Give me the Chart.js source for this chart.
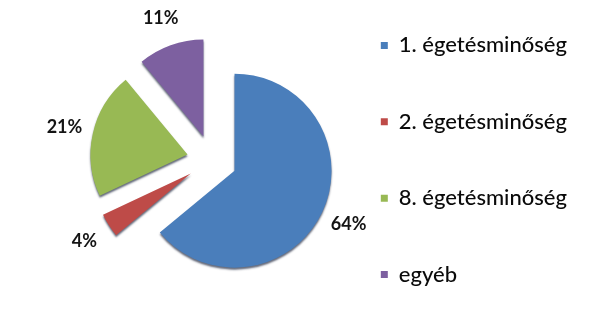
<!DOCTYPE html>
<html>
<head>
<meta charset="utf-8">
<script src="https://cdn.jsdelivr.net/npm/chart.js@4.4.0/dist/chart.umd.min.js"></script>
<style>
  html, body { margin: 0; padding: 0; background: #ffffff; }
</style>
</head>
<body>
<canvas id="pieChart" width="603" height="309"></canvas>
<script>
const categories = ['1. égetésminőség', '2. égetésminőség', '8. égetésminőség', 'egyéb'];
const shares = [64, 4, 21, 11];
const sliceColors = ['#4A7EBB', '#BE4B48', '#98B954', '#7D60A0'];

const EXPLODE = 25;       // how far every slice is pulled out of the centre
const LABEL_RADIUS = 1.3;  // percent labels, as a factor of the slice radius
const FONT = `Lato, 'Open Sans', sans-serif`;

// pulls every slice out along its own mid angle, adds the rim shadow
// and writes the percentages outside the slices
const explodePlugin = {
  id: 'explodePie',
  afterDatasetUpdate(chart, args) {
    args.meta.data.forEach(arc => {
      const mid = (arc.startAngle + arc.endAngle) / 2;
      arc.x += Math.cos(mid) * EXPLODE;
      arc.y += Math.sin(mid) * EXPLODE;
    });
  },
  beforeDatasetsDraw(chart) {
    const ctx = chart.ctx;
    ctx.save();
    ctx.shadowColor = 'rgba(15, 25, 50, 0.65)';
    ctx.shadowBlur = 2;
    ctx.shadowOffsetX = 0;
    ctx.shadowOffsetY = 2;
  },
  afterDatasetsDraw(chart) {
    const ctx = chart.ctx;
    ctx.restore();

    const meta = chart.getDatasetMeta(0);
    const values = chart.data.datasets[0].data;
    const total = values.reduce((a, b) => a + b, 0);

    ctx.save();
    ctx.font = `bold 18px ${FONT}`;
    ctx.fillStyle = '#141414';
    ctx.textAlign = 'center';
    ctx.textBaseline = 'middle';
    meta.data.forEach((arc, i) => {
      const mid = (arc.startAngle + arc.endAngle) / 2;
      const r = arc.outerRadius * LABEL_RADIUS;
      const pct = Math.round(values[i] / total * 100) + '%';
      ctx.fillText(pct, arc.x + Math.cos(mid) * r, arc.y + Math.sin(mid) * r);
    });
    ctx.restore();
  }
};

const ctx = document.getElementById('pieChart').getContext('2d');

new Chart(ctx, {
  type: 'pie',
  data: {
    labels: categories,
    datasets: [{
      data: shares,
      backgroundColor: sliceColors,
      borderWidth: 0
    }]
  },
  options: {
    responsive: false,
    animation: false,
    radius: 97,
    layout: {
      padding: { left: 49, right: 26, top: 11, bottom: 0 }
    },
    plugins: {
      tooltip: { enabled: false },
      legend: {
        position: 'right',
        align: 'center',
        labels: {
          boxWidth: 7,
          boxHeight: 7,
          padding: 6,
          color: '#0a0a0a',
          font: { size: 22, family: FONT, weight: 500, lineHeight: 3.2 },
          generateLabels: function (chart) {
            const original = Chart.overrides.pie.plugins.legend.labels.generateLabels;
            const labels = original(chart);
            labels.forEach((label, i) => {
              label.lineWidth = 0;
              // a one line array makes the item as tall as the font lineHeight,
              // that gives the wide gaps between the rows; the last row stays plain
              if (i < labels.length - 1) label.text = [label.text];
            });
            return labels;
          }
        }
      }
    }
  },
  plugins: [explodePlugin]
});
</script>
</body>
</html>
